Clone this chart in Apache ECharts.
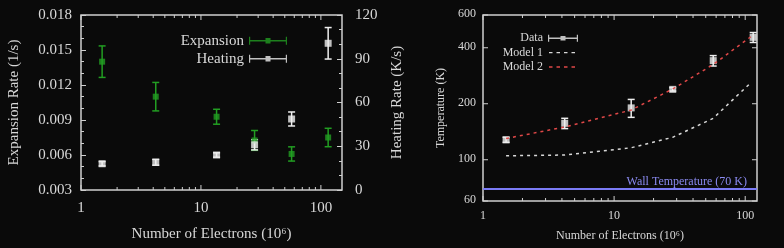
<!DOCTYPE html>
<html>
<head>
<meta charset="utf-8">
<script src="https://cdn.jsdelivr.net/npm/echarts@6/dist/echarts.min.js"></script>
<style>
html,body{margin:0;padding:0;background:#0a0a0a;}
#chart{width:784px;height:248px;}
</style>
</head>
<body>
<div id="chart"></div>
<script>
// ---- data ----
const electrons = [1.5, 4.2, 13.5, 28, 57, 115];
const expansionRate = [0.0140, 0.0110, 0.00928, 0.00725, 0.00609, 0.00750];
const expansionErr = [0.00135, 0.00122, 0.00064, 0.00085, 0.00061, 0.00079];
const heatingRate = [18, 19, 24, 31, 48.7, 100.6];
const heatingErr = [1.5, 2, 1.5, 3.5, 4.8, 10.8];
const temperature = [128, 157, 190, 239, 341, 455];
const temperatureErr = [4, 10, 21, 5, 22, 28];
const modelElectrons = [1.5, 4.2, 13.5, 28, 57, 112];
const model1 = [105, 106, 116, 132, 167, 262];
const model2 = [130, 150, 185, 240, 325, 462];
const wallTemperature = 70;
const xMajorTicks = [1, 10, 100];
const xMinorTicks = [2, 3, 4, 5, 6, 7, 8, 9, 20, 30, 40, 50, 60, 70, 80, 90];
const temperatureTicks = [60, 100, 200, 400, 600];

const FONT = 'Liberation Serif';
const TXT = '#d8d8d8';
const FRAME = '#cfcfcf';
const GREEN = '#229e22';
const WHITE = '#eeeeee';
const RED = '#e04848';
const BLUE = '#7b7bf5';

const chart = echarts.init(document.getElementById('chart'), null, {renderer: 'canvas'});

function errorBarItem(capHalf, color) {
  return function (params, api) {
    const x = api.value(0), lo = api.value(1), hi = api.value(2);
    const a = api.coord([x, lo]), b = api.coord([x, hi]);
    const style = {stroke: color, lineWidth: 1.5};
    return {type: 'group', children: [
      {type: 'line', shape: {x1: a[0], y1: a[1], x2: b[0], y2: b[1]}, style: style},
      {type: 'line', shape: {x1: a[0] - capHalf, y1: a[1], x2: a[0] + capHalf, y2: a[1]}, style: style},
      {type: 'line', shape: {x1: b[0] - capHalf, y1: b[1], x2: b[0] + capHalf, y2: b[1]}, style: style}
    ]};
  };
}

function xTickItem(len) {
  return function (params, api) {
    const cs = params.coordSys;
    const p = api.coord([api.value(0), api.value(1)]);
    const style = {stroke: FRAME, lineWidth: 1};
    const bot = cs.y + cs.height, top = cs.y;
    return {type: 'group', children: [
      {type: 'line', shape: {x1: p[0], y1: bot, x2: p[0], y2: bot - len}, style: style},
      {type: 'line', shape: {x1: p[0], y1: top, x2: p[0], y2: top + len}, style: style}
    ]};
  };
}

function yTickLabelItem(params, api) {
  const cs = params.coordSys;
  const v = api.value(1);
  const p = api.coord([api.value(0), v]);
  const style = {stroke: FRAME, lineWidth: 1};
  return {type: 'group', children: [
    {type: 'line', shape: {x1: cs.x, y1: p[1], x2: cs.x + 5, y2: p[1]}, style: style},
    {type: 'line', shape: {x1: cs.x + cs.width, y1: p[1], x2: cs.x + cs.width - 5, y2: p[1]}, style: style},
    {type: 'text', x: cs.x - 7, y: p[1] - 1,
     style: {text: String(v), fill: TXT, fontSize: 12, fontFamily: FONT, align: 'right', verticalAlign: 'middle'}}
  ]};
}

const ebIcon38 = 'path://M0,0H1.2V8H0Z M36.8,0H38V8H36.8Z M0,3.3H38V4.7H0Z M16.5,1.3H21.5V6.7H16.5Z';
const ebIcon30 = 'path://M0,0H1.2V7H0Z M28.8,0H30V7H28.8Z M0,2.8H30V4.2H0Z M12.5,1.2H17.5V5.8H12.5Z';
const dashIcon30 = 'path://M0,0L0.01,0L0,0.01Z M30,7L29.99,7L30,6.99Z M1,2.8H4.5V4.2H1Z M8.5,2.8H12V4.2H8.5Z M16,2.8H19.5V4.2H16Z M23.5,2.8H27V4.2H23.5Z';

const option = {
  backgroundColor: '#0a0a0a',
  animation: false,
  grid: [
    {left: 81, top: 15, width: 261, height: 175, show: true, borderColor: FRAME, borderWidth: 1.5, backgroundColor: 'transparent'},
    {left: 483, top: 15, width: 274, height: 186, show: true, borderColor: FRAME, borderWidth: 1.5, backgroundColor: 'transparent'}
  ],
  xAxis: [
    {type: 'log', logBase: 10, gridIndex: 0, min: 1, max: 150,
     axisLine: {show: false}, axisTick: {show: false}, splitLine: {show: false},
     axisLabel: {color: TXT, fontSize: 15, fontFamily: FONT, margin: 11, showMaxLabel: false,
       formatter: function (v) { return xMajorTicks.some(t => Math.abs(t - v) < 1e-6) ? String(Math.round(v)) : ''; }},
     name: 'Number of Electrons (10\u2076)', nameLocation: 'middle', nameGap: 37,
     nameTextStyle: {color: TXT, fontSize: 15, fontFamily: FONT}},
    {type: 'log', logBase: 10, gridIndex: 1, min: 1, max: 123,
     axisLine: {show: false}, axisTick: {show: false}, splitLine: {show: false},
     axisLabel: {color: TXT, fontSize: 12, fontFamily: FONT, margin: 9, showMaxLabel: false,
       formatter: function (v) { return xMajorTicks.some(t => Math.abs(t - v) < 1e-6) ? String(Math.round(v)) : ''; }},
     name: 'Number of Electrons (10\u2076)', nameLocation: 'middle', nameGap: 29,
     nameTextStyle: {color: TXT, fontSize: 12, fontFamily: FONT}}
  ],
  yAxis: [
    {type: 'value', gridIndex: 0, min: 0.003, max: 0.018, interval: 0.003, position: 'left',
     axisLine: {show: false}, splitLine: {show: false},
     axisTick: {show: true, inside: true, length: 5, lineStyle: {color: FRAME}},
     minorTick: {show: true, splitNumber: 3, length: 3, lineStyle: {color: FRAME}},
     minorSplitLine: {show: false},
     axisLabel: {color: TXT, fontSize: 15, fontFamily: FONT, margin: 9, formatter: v => v.toFixed(3)},
     name: 'Expansion Rate (1/s)', nameLocation: 'middle', nameGap: 59, nameRotate: 90,
     nameTextStyle: {color: TXT, fontSize: 15, fontFamily: FONT}},
    {type: 'value', gridIndex: 0, min: 0, max: 120, interval: 30, position: 'right',
     axisLine: {show: false}, splitLine: {show: false},
     axisTick: {show: true, inside: true, length: 5, lineStyle: {color: FRAME}},
     minorTick: {show: true, splitNumber: 3, length: 3, lineStyle: {color: FRAME}},
     minorSplitLine: {show: false},
     axisLabel: {color: TXT, fontSize: 15, fontFamily: FONT, margin: 13},
     name: 'Heating Rate (K/s)', nameLocation: 'middle', nameGap: 48, nameRotate: 90,
     nameTextStyle: {color: TXT, fontSize: 15, fontFamily: FONT}},
    {type: 'log', logBase: 10, gridIndex: 1, min: 60, max: 600, position: 'left',
     axisLine: {show: false}, axisTick: {show: false}, splitLine: {show: false},
     axisLabel: {show: false},
     name: 'Temperature (K)', nameLocation: 'middle', nameGap: 36, nameRotate: 90,
     nameTextStyle: {color: TXT, fontSize: 12, fontFamily: FONT}}
  ],
  legend: [
    {data: [{name: 'Expansion', icon: ebIcon38}, {name: 'Heating', icon: ebIcon38}],
     orient: 'vertical', align: 'right', right: 497, top: 31.7, padding: 0,
     itemWidth: 38, itemHeight: 8, itemGap: 0, selectedMode: false,
     textStyle: {color: TXT, fontSize: 15, fontFamily: FONT, lineHeight: 18}},
    {data: [{name: 'Data', icon: ebIcon30}, {name: 'Model 1', icon: dashIcon30}, {name: 'Model 2', icon: dashIcon30}],
     orient: 'vertical', align: 'right', right: 206, top: 31, padding: 0,
     itemWidth: 30, itemHeight: 7, itemGap: 0, selectedMode: false,
     textStyle: {color: TXT, fontSize: 12, fontFamily: FONT, lineHeight: 14.4}}
  ],
  series: [
    // ---- left panel ----
    {type: 'custom', name: 'expErr', xAxisIndex: 0, yAxisIndex: 0, clip: false, silent: true,
     renderItem: errorBarItem(3.5, GREEN), encode: {x: 0, y: [1, 2]},
     data: electrons.map((x, i) => [x, expansionRate[i] - expansionErr[i], expansionRate[i] + expansionErr[i]])},
    {type: 'scatter', name: 'Expansion', xAxisIndex: 0, yAxisIndex: 0, symbol: 'rect', symbolSize: 6,
     itemStyle: {color: GREEN}, data: electrons.map((x, i) => [x, expansionRate[i]])},
    {type: 'custom', name: 'heatErr', xAxisIndex: 0, yAxisIndex: 1, clip: false, silent: true,
     renderItem: errorBarItem(3.5, WHITE), encode: {x: 0, y: [1, 2]},
     data: electrons.map((x, i) => [x, heatingRate[i] - heatingErr[i], heatingRate[i] + heatingErr[i]])},
    {type: 'scatter', name: 'Heating', xAxisIndex: 0, yAxisIndex: 1, symbol: 'rect', symbolSize: 7,
     itemStyle: {color: WHITE}, data: electrons.map((x, i) => [x, heatingRate[i]])},
    {type: 'custom', name: 'ticksL1', xAxisIndex: 0, yAxisIndex: 0, clip: false, silent: true,
     renderItem: xTickItem(5), encode: {x: 0, y: 1}, data: xMajorTicks.map(v => [v, 0.01])},
    {type: 'custom', name: 'ticksL2', xAxisIndex: 0, yAxisIndex: 0, clip: false, silent: true,
     renderItem: xTickItem(3), encode: {x: 0, y: 1}, data: xMinorTicks.map(v => [v, 0.01])},
    // ---- right panel ----
    {type: 'line', name: 'Model 1', xAxisIndex: 1, yAxisIndex: 2, symbol: 'none', showSymbol: false,
     lineStyle: {color: '#d8d8d8', width: 1.5, type: [3, 4]}, itemStyle: {color: '#d8d8d8'},
     data: modelElectrons.map((x, i) => [x, model1[i]]),
     markLine: {silent: true, symbol: 'none', animation: false,
       lineStyle: {color: BLUE, width: 2, type: 'solid'},
       label: {show: true, position: 'insideEndTop', formatter: 'Wall Temperature (70 K)', color: '#8a8af0',
         fontSize: 12, fontFamily: FONT, distance: [10, 1]},
       data: [{yAxis: wallTemperature}]}},
    {type: 'line', name: 'Model 2', xAxisIndex: 1, yAxisIndex: 2, symbol: 'none', showSymbol: false,
     lineStyle: {color: RED, width: 1.5, type: [3, 4]}, itemStyle: {color: RED},
     data: modelElectrons.map((x, i) => [x, model2[i]])},
    {type: 'custom', name: 'tempErr', xAxisIndex: 1, yAxisIndex: 2, clip: false, silent: true,
     renderItem: errorBarItem(3.5, WHITE), encode: {x: 0, y: [1, 2]},
     data: electrons.map((x, i) => [x, temperature[i] - temperatureErr[i], temperature[i] + temperatureErr[i]])},
    {type: 'scatter', name: 'Data', xAxisIndex: 1, yAxisIndex: 2, symbol: 'rect', symbolSize: 7,
     itemStyle: {color: WHITE}, data: electrons.map((x, i) => [x, temperature[i]])},
    {type: 'custom', name: 'ticksR1', xAxisIndex: 1, yAxisIndex: 2, clip: false, silent: true,
     renderItem: xTickItem(5), encode: {x: 0, y: 1}, data: xMajorTicks.map(v => [v, 100])},
    {type: 'custom', name: 'ticksR2', xAxisIndex: 1, yAxisIndex: 2, clip: false, silent: true,
     renderItem: xTickItem(3), encode: {x: 0, y: 1}, data: xMinorTicks.map(v => [v, 100])},
    {type: 'custom', name: 'ticksR3', xAxisIndex: 1, yAxisIndex: 2, clip: false, silent: true,
     renderItem: yTickLabelItem, encode: {x: 0, y: 1}, data: temperatureTicks.map(v => [1, v])}
  ]
};
chart.setOption(option);
</script>
</body>
</html>
